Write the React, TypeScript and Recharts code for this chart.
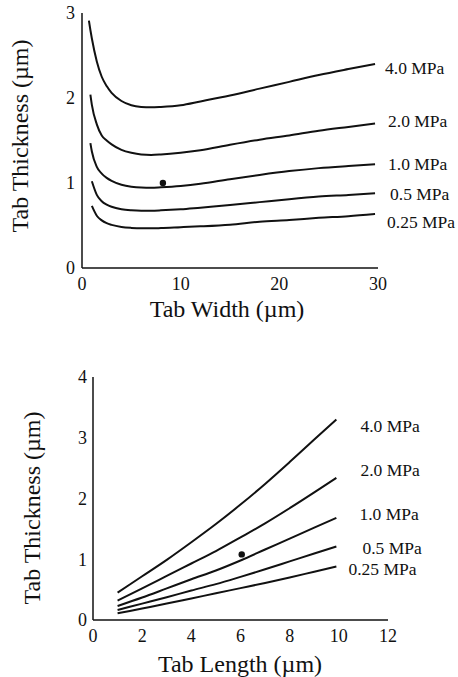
import React from "react";
import { ComposedChart, Line, XAxis, YAxis, ReferenceDot, LabelList } from "recharts";

// ---------- Top chart: Tab Width ----------
const widthX = [0.7, 0.85, 1, 1.5, 2, 2.5, 3, 4, 5, 6, 7, 8, 10, 12, 15, 18, 21, 24, 27, 29.7];
const w40 = [2.91, 2.8, 2.7, 2.43, 2.25, 2.14, 2.06, 1.965, 1.915, 1.895, 1.89, 1.895, 1.915, 1.96, 2.03, 2.11, 2.19, 2.27, 2.34, 2.4];
const w20 = [null, 2.04, 1.92, 1.69, 1.56, 1.5, 1.455, 1.39, 1.355, 1.335, 1.33, 1.335, 1.355, 1.385, 1.45, 1.51, 1.56, 1.615, 1.66, 1.7];
const w10 = [null, 1.47, 1.37, 1.19, 1.11, 1.06, 1.025, 0.98, 0.957, 0.947, 0.945, 0.95, 0.965, 0.99, 1.045, 1.095, 1.14, 1.175, 1.2, 1.22];
const w05 = [null, null, 1.02, 0.86, 0.785, 0.745, 0.72, 0.692, 0.68, 0.675, 0.675, 0.678, 0.69, 0.71, 0.74, 0.775, 0.81, 0.84, 0.86, 0.88];
const w025 = [null, null, 0.73, 0.615, 0.56, 0.527, 0.507, 0.483, 0.472, 0.467, 0.467, 0.47, 0.48, 0.49, 0.51, 0.545, 0.565, 0.59, 0.61, 0.635];
const widthTicks = [0, 10, 20, 30];
const widthYTicks = [0, 1, 2, 3];
const widthDot = { x: 8.2, y: 1.0 };

// ---------- Bottom chart: Tab Length ----------
const lengthX = [1, 2, 3, 4, 5, 6, 7, 8, 9, 9.9];
const l40 = [0.45, 0.72, 0.99, 1.28, 1.58, 1.9, 2.24, 2.6, 2.97, 3.3];
const l20 = [0.32, 0.52, 0.725, 0.93, 1.135, 1.36, 1.59, 1.84, 2.1, 2.34];
const l10 = [0.23, 0.37, 0.52, 0.67, 0.815, 0.98, 1.16, 1.34, 1.52, 1.68];
const l05 = [0.165, 0.27, 0.375, 0.485, 0.59, 0.71, 0.835, 0.965, 1.095, 1.21];
const l025 = [0.11, 0.19, 0.27, 0.355, 0.44, 0.525, 0.61, 0.7, 0.795, 0.88];
const lengthTicks = [0, 2, 4, 6, 8, 10, 12];
const lengthYTicks = [0, 1, 2, 3, 4];
const lengthDot = { x: 6.05, y: 1.08 };

const seriesNames = ["4.0 MPa", "2.0 MPa", "1.0 MPa", "0.5 MPa", "0.25 MPa"];
const seriesKeys = ["p40", "p20", "p10", "p05", "p025"];

const widthData = widthX.map((x, i) => ({
  x,
  p40: w40[i],
  p20: w20[i],
  p10: w10[i],
  p05: w05[i],
  p025: w025[i],
}));
const lengthData = lengthX.map((x, i) => ({
  x,
  p40: l40[i],
  p20: l20[i],
  p10: l10[i],
  p05: l05[i],
  p025: l025[i],
}));

// label offsets (style only)
const widthLabelOffsets = [
  [10, 4],
  [13, -3],
  [13, 0],
  [15, 1],
  [12, 8],
];
const lengthLabelOffsets = [
  [24, 6],
  [24, -8],
  [23, -4],
  [26, 1],
  [12, 2],
];

const FONT = "'Liberation Serif', 'DejaVu Serif', serif";
const INK = "#111";

const makeEndLabel = (text: string, dx: number, dy: number, last: number) => (props: any) => {
  const { index } = props;
  if (index !== last) return null;
  const x = props.x ?? props.viewBox?.x;
  const y = props.y ?? props.viewBox?.y;
  if (x == null || y == null) return null;
  return (
    <text x={x + dx} y={y + dy} dy="0.35em" fontSize={17.5} fontFamily={FONT} fill={INK} textAnchor="start">
      {text}
    </text>
  );
};

const tickStyle = { fill: INK, fontSize: 18, fontFamily: FONT };

export default function App() {
  return (
    <div style={{ position: "absolute", top: 0, left: 0, width: 458, height: 677, background: "#fff" }}>
      <div style={{ position: "absolute", top: 0, left: 0 }}>
        <ComposedChart width={458} height={330} data={widthData} margin={{ top: 13, right: 80, bottom: 32, left: 52 }}>
          <XAxis
            dataKey="x"
            type="number"
            domain={[0, 30]}
            ticks={widthTicks}
            height={30}
            tickLine={false}
            tickSize={0}
            tickMargin={9}
            tick={tickStyle}
            axisLine={{ stroke: INK, strokeWidth: 1.5 }}
          />
          <YAxis
            type="number"
            domain={[0, 3]}
            ticks={widthYTicks}
            width={30}
            tickLine={false}
            tickSize={0}
            tickMargin={7}
            tick={tickStyle}
            axisLine={{ stroke: INK, strokeWidth: 1.5 }}
          />
          {seriesKeys.map((k, i) => (
            <Line
              key={k}
              dataKey={k}
              type="monotone"
              stroke={INK}
              strokeWidth={2}
              dot={false}
              activeDot={false}
              isAnimationActive={false}
            >
              <LabelList
                dataKey={k}
                content={makeEndLabel(seriesNames[i], widthLabelOffsets[i][0], widthLabelOffsets[i][1], widthData.length - 1)}
              />
            </Line>
          ))}
          <ReferenceDot x={widthDot.x} y={widthDot.y} r={3.2} fill={INK} stroke="none" />
        </ComposedChart>
      </div>
      <div style={{ position: "absolute", top: 340, left: 0 }}>
        <ComposedChart width={458} height={337} data={lengthData} margin={{ top: 37, right: 70, bottom: 27, left: 63 }}>
          <XAxis
            dataKey="x"
            type="number"
            domain={[0, 12]}
            ticks={lengthTicks}
            height={30}
            tickLine={false}
            tickSize={0}
            tickMargin={9}
            tick={tickStyle}
            axisLine={{ stroke: INK, strokeWidth: 1.5 }}
          />
          <YAxis
            type="number"
            domain={[0, 4]}
            ticks={lengthYTicks}
            width={30}
            tickLine={false}
            tickSize={0}
            tickMargin={6}
            tick={tickStyle}
            axisLine={{ stroke: INK, strokeWidth: 1.5 }}
          />
          {seriesKeys.map((k, i) => (
            <Line
              key={k}
              dataKey={k}
              type="monotone"
              stroke={INK}
              strokeWidth={2}
              dot={false}
              activeDot={false}
              isAnimationActive={false}
            >
              <LabelList
                dataKey={k}
                content={makeEndLabel(seriesNames[i], lengthLabelOffsets[i][0], lengthLabelOffsets[i][1], lengthData.length - 1)}
              />
            </Line>
          ))}
          <ReferenceDot x={lengthDot.x} y={lengthDot.y} r={3.2} fill={INK} stroke="none" />
        </ComposedChart>
      </div>
      <svg width={458} height={677} style={{ position: "absolute", top: 0, left: 0, pointerEvents: "none" }}>
        <text x={227} y={317} textAnchor="middle" fontSize={24} fontFamily={FONT} fill={INK}>
          Tab Width (µm)
        </text>
        <text x={28} y={136} textAnchor="middle" fontSize={24} fontFamily={FONT} fill={INK} transform="rotate(-90 28 136)">
          Tab Thickness (µm)
        </text>
        <text x={240} y={672} textAnchor="middle" fontSize={24} fontFamily={FONT} fill={INK}>
          Tab Length (µm)
        </text>
        <text x={40} y={508} textAnchor="middle" fontSize={24} fontFamily={FONT} fill={INK} transform="rotate(-90 40 508)">
          Tab Thickness (µm)
        </text>
      </svg>
    </div>
  );
}
